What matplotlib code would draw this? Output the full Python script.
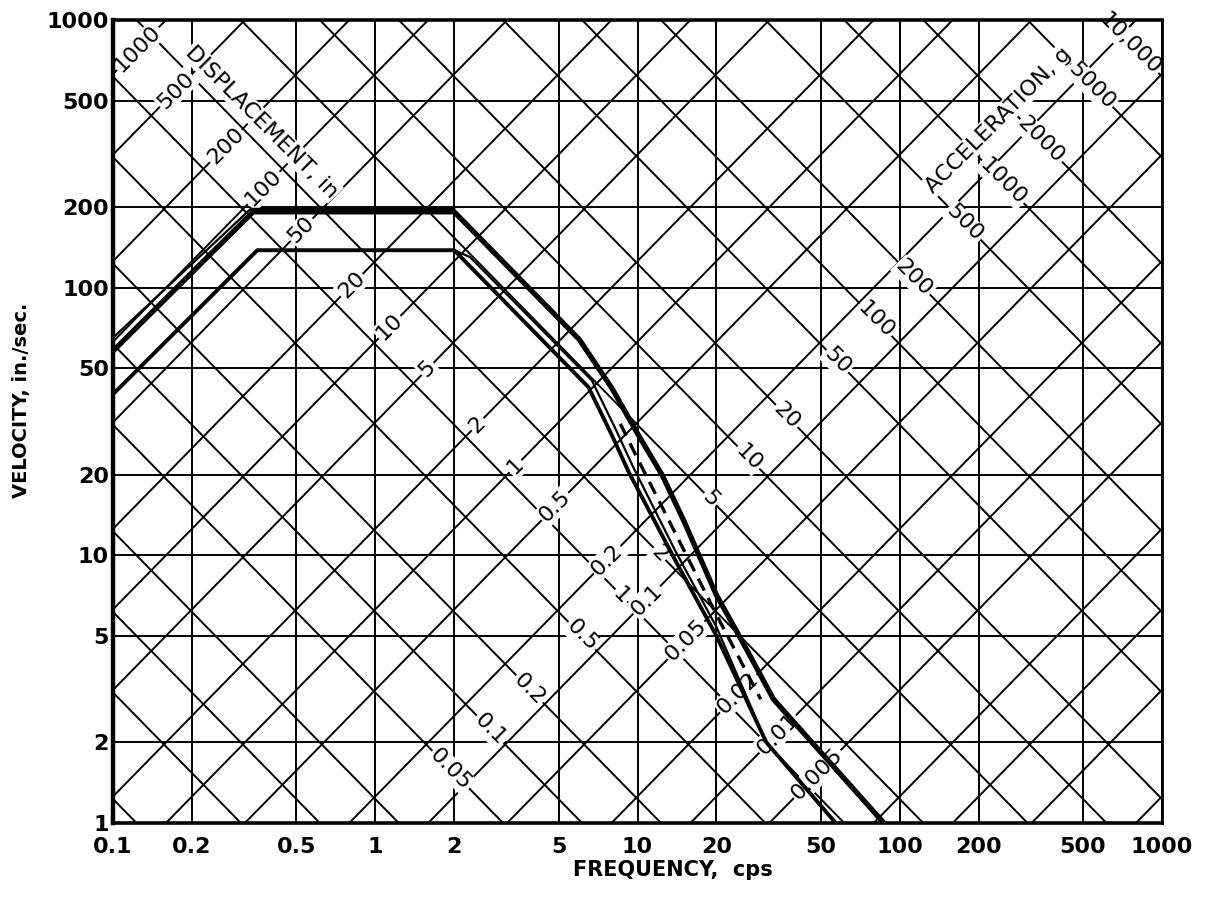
import numpy as np
import matplotlib.pyplot as plt

G = 386.1  # in/s^2 per g

# axis ticks
freq_ticks = [0.1, 0.2, 0.5, 1, 2, 5, 10, 20, 50, 100, 200, 500, 1000]
freq_labels = ["0.1", "0.2", "0.5", "1", "2", "5", "10", "20", "50", "100", "200", "500", "1000"]
vel_ticks = [1, 2, 5, 10, 20, 50, 100, 200, 500, 1000]
vel_labels = ["1", "2", "5", "10", "20", "50", "100", "200", "500", "1000"]

# diagonal grid values
disp_lines = [0.0002, 0.0005, 0.001, 0.002, 0.005, 0.01, 0.02, 0.05, 0.1, 0.2, 0.5,
              1, 2, 5, 10, 20, 50, 100, 200, 500, 1000]
acc_lines = [0.002, 0.005, 0.01, 0.02, 0.05, 0.1, 0.2, 0.5, 1, 2, 5, 10, 20, 50,
             100, 200, 500, 1000, 2000, 5000, 10000]
disp_labels = [1000, 500, 200, 100, 50, 20, 10, 5, 2, 1, 0.5, 0.2, 0.1, 0.05, 0.02, 0.01, 0.005]
acc_labels = [10000, 5000, 2000, 1000, 500, 200, 100, 50, 20, 10, 5, 2, 1, 0.5, 0.2, 0.1, 0.05]

# spectrum curves (frequency cps, velocity in/sec)
fA = [0.1, 0.342, 2.0, 6.0, 8.0, 10, 12.4, 15, 20, 25, 33, 87]
vA = [58, 192, 192, 64, 42, 28.5, 20, 13.5, 7.1, 4.8, 2.9, 1.0]
fB = [0.1, 0.335, 2.0]
vB = [65, 197, 197]
fC = [0.1, 0.355, 2.0, 6.5, 8.0, 9.25, 14, 20, 31, 57]
vC = [40, 138, 138, 42.5, 28, 20.5, 9.5, 5.0, 2.0, 1.0]
fE = [2.0, 2.3, 6.7, 8.2, 9.6, 14, 20, 31]
vE = [138, 130, 45, 30, 21.5, 10.3, 5.4, 2.0]
fD = [8.6, 10, 14, 20, 29.5]
vD = [31, 23, 12, 6, 2.9]


def fmt(x):
    if x >= 10000:
        return "10,000"
    if x >= 1:
        return str(int(x))
    return ("%g" % x)


fig = plt.figure(figsize=(12.05, 9.09), dpi=100)
ax = fig.add_axes([0.0938, 0.0946, 0.8705, 0.8834])
ax.set_xscale("log")
ax.set_yscale("log")
ax.set_xlim(0.1, 1000)
ax.set_ylim(1, 1000)

gl = dict(color="black", lw=1.4, zorder=1)
for f in freq_ticks:
    ax.axvline(f, **gl)
for v in vel_ticks:
    ax.axhline(v, **gl)

fr = np.array([0.05, 2000.0])
for d in disp_lines:
    ax.plot(fr, 2 * np.pi * fr * d, **gl)
for a in acc_lines:
    ax.plot(fr, a * G / (2 * np.pi * fr), **gl)

box = dict(facecolor="white", edgecolor="none", pad=1.0)

# displacement labels placed along a line of roughly constant acceleration
for d in disp_labels:
    a_pos = 1.2 * max(d, 1) ** 0.04
    w = np.sqrt(a_pos * G / d)
    ax.text(w / (2 * np.pi), w * d, fmt(d), rotation=45, fontsize=16,
            ha="center", va="center", bbox=box, zorder=2, clip_on=False)

# acceleration labels placed along a line of roughly constant displacement
for a in acc_labels:
    d_pos = 0.13 * max(a, 1) ** 0.03
    w = np.sqrt(a * G / d_pos)
    ax.text(w / (2 * np.pi), w * d_pos, fmt(a), rotation=-45, fontsize=16,
            ha="center", va="center", bbox=box, zorder=2, clip_on=False)

ax.text(0.37, 416, "DISPLACEMENT, in", rotation=-45, fontsize=16,
        ha="center", va="center", bbox=box, zorder=2)
ax.text(237, 423, "ACCELERATION, g", rotation=45, fontsize=16,
        ha="center", va="center", bbox=box, zorder=2)

ax.plot(fA, vA, color="black", lw=3.8, zorder=4, solid_joinstyle="round")
ax.plot(fB, vB, color="black", lw=1.6, zorder=4)
ax.plot(fC, vC, color="black", lw=2.8, zorder=4, solid_joinstyle="round")
ax.plot(fE, vE, color="black", lw=1.6, zorder=4)
ax.plot(fD, vD, color="black", lw=2.4, ls=(0, (4, 2.5)), zorder=4)

ax.set_xticks(freq_ticks)
ax.set_xticklabels(freq_labels, fontweight="bold")
ax.set_yticks(vel_ticks)
ax.set_yticklabels(vel_labels, fontweight="bold")
ax.minorticks_off()
ax.tick_params(axis="both", length=0, labelsize=16)
ax.tick_params(axis="x", pad=10)
ax.tick_params(axis="y", pad=3)

for side, w in [("left", 3.2), ("bottom", 2.6), ("top", 2.6), ("right", 2.0)]:
    ax.spines[side].set_linewidth(w)
    ax.spines[side].set_zorder(5)

fig.text(0.018, 0.56, "VELOCITY, in./sec.", rotation=90, fontsize=14,
         fontweight="bold", ha="center", va="center")
fig.text(0.558, 0.043, "FREQUENCY,  cps", fontsize=15, fontweight="bold",
         ha="center", va="center")

fig.savefig("out.png", dpi=100, facecolor="white")
